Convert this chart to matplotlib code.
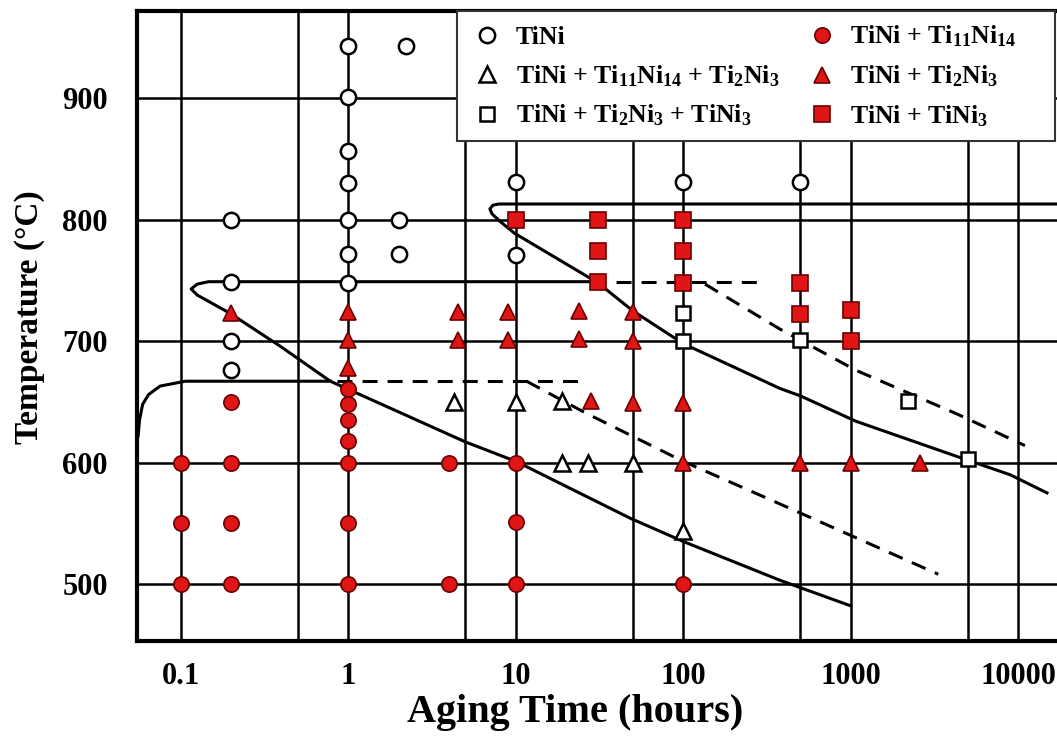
import matplotlib.pyplot as plt
from matplotlib.lines import Line2D
from matplotlib.patches import Rectangle
from matplotlib.ticker import FixedLocator, FixedFormatter, NullFormatter

plt.rcParams['font.family'] = 'Liberation Serif'
plt.rcParams['font.weight'] = 'bold'
plt.rcParams['mathtext.fontset'] = 'custom'
plt.rcParams['mathtext.rm'] = 'Liberation Serif:bold'
plt.rcParams['mathtext.it'] = 'Liberation Serif:bold'
plt.rcParams['mathtext.bf'] = 'Liberation Serif:bold'

# samples: aging time (hours) and temperature (C), grouped by phases found
tini_t = [1, 1, 1, 1, 1, 1, 1, 2.2, 2, 2, 0.2, 0.2, 0.2, 0.2, 10, 10, 100, 500]
tini_T = [943, 901, 857, 830, 800, 772, 748, 943, 800, 772, 800, 749, 700, 676, 831, 771, 831, 831]

ti11_t = [0.1, 0.1, 0.1, 0.2, 0.2, 0.2, 0.2, 1, 1, 1, 1, 1, 1, 1, 4, 4, 10, 10, 10, 100]
ti11_T = [600, 550, 500, 650, 600, 550, 500, 661, 648, 635, 618, 600, 550, 500, 600, 500, 600, 551, 500, 500]

ti2_t = [0.2, 1, 1, 1, 4.5, 4.5, 9, 9, 24, 24, 28, 50, 50, 50, 100, 100, 500, 1000, 2600]
ti2_T = [723, 724, 701, 678, 724, 701, 724, 701, 725, 702, 651, 724, 700, 649, 649, 600, 600, 600, 600]

tini3_t = [10, 31, 31, 31, 100, 100, 100, 500, 500, 1000, 1000]
tini3_T = [800, 800, 774, 749, 800, 774, 748, 748, 722, 726, 700]

tri_t = [4.3, 10, 19, 19, 27, 50, 100]          # TiNi + Ti11Ni14 + Ti2Ni3
tri_T = [650, 650, 651, 600, 600, 600, 544]

sq_t = [100, 100, 500, 2200, 5000]              # TiNi + Ti2Ni3 + TiNi3
sq_T = [723, 700, 701, 651, 603]

# phase boundaries (solid) and their dashed extensions
c1_t = [0.0555, 0.0565, 0.059, 0.064, 0.075, 0.106, 0.146, 0.78]
c1_T = [622, 635, 648, 656, 663, 667, 667, 667]
c1d_t = [0.85, 25]
c1d_T = [667, 667]
d1_t = [11.6, 26, 100, 324, 3340]
d1_T = [667, 641, 601, 570, 508]

c2_t = [28, 0.146, 0.125, 0.115, 0.125, 0.196, 0.39, 0.78, 5, 10, 48.5, 100, 379, 1000]
c2_T = [749, 749, 747, 743, 738, 723, 696, 667, 617, 601, 554, 535, 503, 482]
c2d_t = [28, 309]
c2d_T = [749, 749]
d2_t = [135, 378, 1077, 4325, 11000]
d2_T = [747, 710, 676, 640, 614]

c3_t = [17100, 7.9, 7.3, 7.0, 7.2, 8.0, 9.8, 31, 50, 100, 379, 500, 1077, 4325, 8960, 14900]
c3_T = [813, 813, 812, 809, 805, 799, 789, 748, 725, 698, 661, 655, 634, 605, 590, 575]

major_t = [0.1, 1, 10, 100, 1000, 10000]
major_lab = ['0.1', '1', '10', '100', '1000', '10000']
half_t = [0.5, 5, 50, 500, 5000]
temp_ticks = [500, 600, 700, 800, 900]

red = '#e01515'
red_edge = '#6b0000'

fig = plt.figure(figsize=(10.57, 7.42), dpi=100)
ax = fig.add_axes([137 / 1057, 101 / 742, 920 / 1057, 630 / 742])

ax.set_xscale('log')
ax.set_xlim(0.0546, 17100)
ax.set_ylim(453, 972)

# boundaries
lw = 2.2
ax.plot(c1_t, c1_T, color='black', lw=lw, zorder=3)
ax.plot(c2_t, c2_T, color='black', lw=lw, zorder=3)
ax.plot(c3_t, c3_T, color='black', lw=lw, zorder=3)
for tt, TT in [(c1d_t, c1d_T), (d1_t, d1_T), (c2d_t, c2d_T), (d2_t, d2_T)]:
    ax.plot(tt, TT, color='black', lw=lw, dashes=(4.9, 3.3), zorder=3)

# samples
ax.plot(tini_t, tini_T, 'o', ms=11, mfc='white', mec='black', mew=1.8, zorder=4)
ax.plot(tri_t, tri_T, '^', ms=11, mfc='white', mec='black', mew=1.8, zorder=4)
ax.plot(sq_t, sq_T, 's', ms=10.5, mfc='white', mec='black', mew=1.8, zorder=4)
ax.plot(ti11_t, ti11_T, 'o', ms=11, mfc=red, mec=red_edge, mew=1.2, zorder=4)
ax.plot(ti2_t, ti2_T, '^', ms=11, mfc=red, mec=red_edge, mew=1.2, zorder=4)
ax.plot(tini3_t, tini3_T, 's', ms=11, mfc=red, mec=red_edge, mew=1.2, zorder=4)

# grid and axes
ax.xaxis.set_major_locator(FixedLocator(major_t))
ax.xaxis.set_major_formatter(FixedFormatter(major_lab))
ax.xaxis.set_minor_locator(FixedLocator(half_t))
ax.xaxis.set_minor_formatter(NullFormatter())
ax.set_yticks(temp_ticks)
ax.grid(which='both', color='black', lw=1.8, zorder=1)
ax.set_axisbelow(True)
ax.tick_params(which='both', length=0)
ax.tick_params(axis='x', labelsize=22, pad=15)
ax.tick_params(axis='y', labelsize=22, pad=21)
for s in ['left', 'bottom', 'top']:
    ax.spines[s].set_linewidth(3)
ax.spines['right'].set_visible(False)

ax.set_xlabel('Aging Time (hours)', fontsize=29, fontweight='bold')
ax.xaxis.set_label_coords(0.476, -0.084)
ax.set_ylabel('Temperature (°C)', fontsize=24, fontweight='bold')
ax.yaxis.set_label_coords(-0.100, 0.514)

# legend box across the top of the plot
box = Rectangle((0.348, 0.794), 0.650, 0.206, transform=ax.transAxes,
                facecolor='white', edgecolor='#333333', lw=1.5, zorder=9, clip_on=False)
ax.add_patch(box)

handles = [
    Line2D([], [], ls='none', marker='o', ms=11, mfc='white', mec='black', mew=1.8),
    Line2D([], [], ls='none', marker='^', ms=11, mfc='white', mec='black', mew=1.8),
    Line2D([], [], ls='none', marker='s', ms=10.5, mfc='white', mec='black', mew=1.8),
    Line2D([], [], ls='none', marker='o', ms=11, mfc=red, mec=red_edge, mew=1.2),
    Line2D([], [], ls='none', marker='^', ms=11, mfc=red, mec=red_edge, mew=1.2),
    Line2D([], [], ls='none', marker='s', ms=11, mfc=red, mec=red_edge, mew=1.2),
]
labels = [
    'TiNi',
    'TiNi + Ti$_{11}$Ni$_{14}$ + Ti$_{2}$Ni$_{3}$',
    'TiNi + Ti$_{2}$Ni$_{3}$ + TiNi$_{3}$',
    'TiNi + Ti$_{11}$Ni$_{14}$',
    'TiNi + Ti$_{2}$Ni$_{3}$',
    'TiNi + TiNi$_{3}$',
]
leg = ax.legend(handles, labels, ncol=2, loc='upper left',
                bbox_to_anchor=(0.353, 1.0), borderaxespad=0, fontsize=18.5,
                handlelength=1.0, handletextpad=0.6, columnspacing=1.15,
                borderpad=0.5, labelspacing=0.55, frameon=False)
leg.set_zorder(10)

fig.savefig('out.png', dpi=100)
